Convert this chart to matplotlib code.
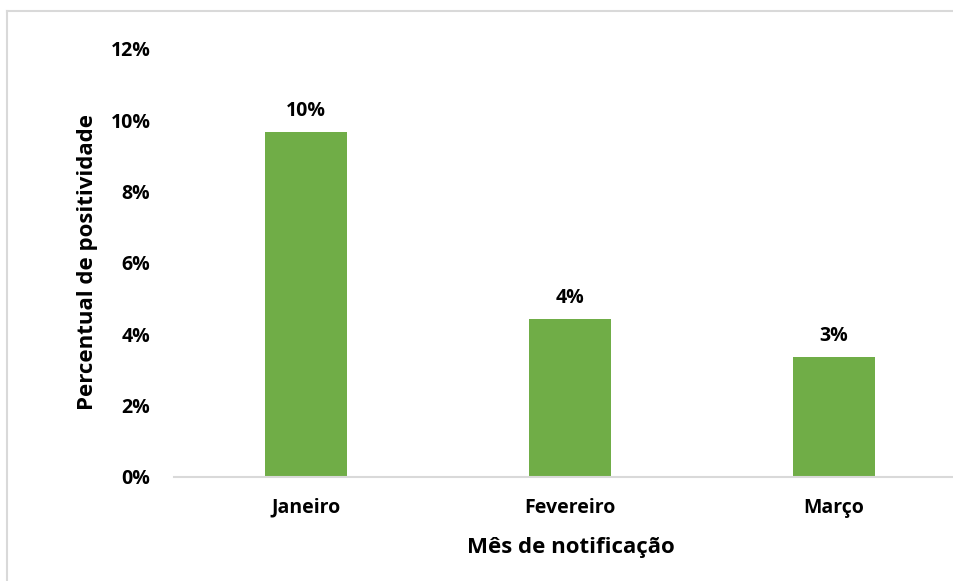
import matplotlib
matplotlib.use("Agg")
import matplotlib.pyplot as plt
from matplotlib.lines import Line2D
from matplotlib.ticker import FuncFormatter, MultipleLocator

categories = ["Janeiro", "Fevereiro", "Março"]
values = [9.67, 4.43, 3.36]
x_title = "Mês de notificação"
y_title = "Percentual de positividade"

plt.rcParams['font.family'] = ['Open Sans', 'DejaVu Sans']
plt.rcParams['font.weight'] = 'bold'

W, H = 954, 581
fig = plt.figure(figsize=(W/100, H/100), dpi=100)
ax = fig.add_axes([174/W, 1-477/H, 792/W, 428/H])

xs = list(range(len(categories)))
bars = ax.bar(xs, values, width=0.314, color="#70ad47", zorder=2)
ax.set_xlim(-0.5, len(categories)-0.5)
ax.set_ylim(0, 12)
ax.yaxis.set_major_locator(MultipleLocator(2))
ax.yaxis.set_major_formatter(FuncFormatter(lambda v, p: f"{v:.0f}%"))
ax.set_xticks(xs)
ax.set_xticklabels(categories)

for s in ["top", "right", "left"]:
    ax.spines[s].set_visible(False)
ax.spines["bottom"].set_color("#d9d9d9")
ax.spines["bottom"].set_linewidth(1.5)
ax.tick_params(axis="both", length=0, labelsize=14, colors="black")
ax.tick_params(axis="y", pad=17)
ax.tick_params(axis="x", pad=15)
for lab in ax.get_xticklabels() + ax.get_yticklabels():
    lab.set_fontweight("bold")

for x, v in zip(xs, values):
    ax.annotate(f"{v:.0f}%", (x, v), xytext=(0, 8), textcoords="offset points",
                ha="center", va="bottom", fontsize=14, fontweight="bold")

fig.text(571/W, 1-548/H, x_title, ha="center", va="center", fontsize=16, fontweight="bold")
fig.text(88/W, 1-262/H, y_title, ha="center", va="center", rotation=90, fontsize=16, fontweight="bold")

# outer chart frame
fig.add_artist(Line2D([7/W, 7/W], [0, 1-11/H], transform=fig.transFigure, color="#d9d9d9", lw=1.5))
fig.add_artist(Line2D([7/W, 1], [1-11/H, 1-11/H], transform=fig.transFigure, color="#d9d9d9", lw=1.5))

fig.savefig("out.png", dpi=100)
